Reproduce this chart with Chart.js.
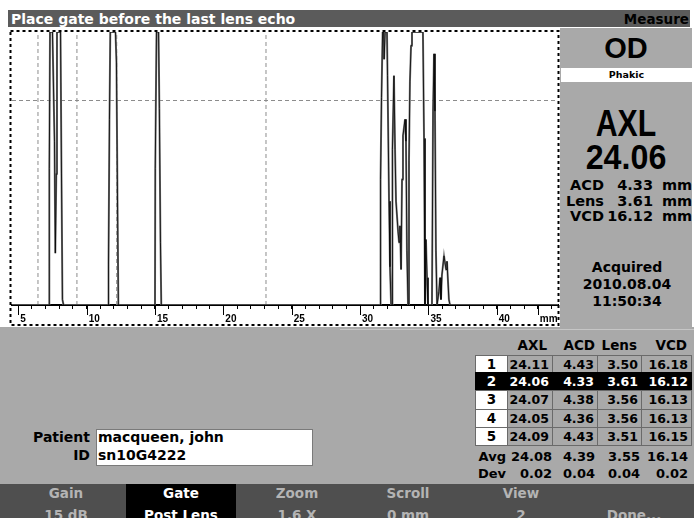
<!DOCTYPE html>
<html>
<head>
<meta charset="utf-8">
<script src="https://cdn.jsdelivr.net/npm/chart.js@4.4.0/dist/chart.umd.min.js"></script>
<style>
html, body { margin: 0; padding: 0; background: #fff; }
body { width: 694px; height: 518px; position: relative; overflow: hidden; font-family: "DejaVu Sans", sans-serif; font-weight: bold; }
.abs { position: absolute; white-space: nowrap; }
#titleBar { left: 8px; top: 10px; width: 682px; height: 17px; background: #5b5b5b; }
#titleText { left: 11px; top: 11.5px; color: #fff; font-size: 14px; line-height: 14px; }
#measure { right: 5px; top: 11.5px; color: #000; font-size: 13.5px; line-height: 14px; }
#chartWrap { left: 8px; top: 28px; width: 552px; height: 300px; background: #fff; }
#sidePanel { left: 560px; top: 28px; width: 132px; height: 299px; background: #a9a9a9; }
#bottomArea { left: 0; top: 327px; width: 694px; height: 157px; background: #a9a9a9; }
#sepLine { left: 340px; top: 329px; width: 354px; height: 1px; background: #c6c6c6; }
#bottomBar { left: 0; top: 484px; width: 694px; height: 34px; background: #4f4f4f; }
#gateCell { left: 126px; top: 484px; width: 110px; height: 34px; background: #000; }
.big { font-family: "Liberation Sans", Arial, sans-serif; text-align: center; color: #000; }
.side { font-size: 14.5px; line-height: 14.5px; color: #000; }
.cell { box-sizing: border-box; border: 1px solid #6a6a6a; font-size: 12.5px; line-height: 13px; padding-top: 2px; }
.btn { font-size: 13.5px; line-height: 13.5px; color: #b4b4b4; text-align: center; width: 110px; }
</style>
</head>
<body>
<div id="titleBar" class="abs"></div>
<div id="titleText" class="abs">Place gate before the last lens echo</div>
<div id="measure" class="abs">Measure</div>

<div id="chartWrap" class="abs"><canvas id="echoChart" width="552" height="300"></canvas></div>

<div id="sidePanel" class="abs"></div>
<div id="bottomArea" class="abs"></div>
<div id="sepLine" class="abs"></div>
<div id="bottomBar" class="abs"></div>
<div id="gateCell" class="abs"></div>
<div id="overlay"></div>

<script>
// Traza A-scan: profundidad (mm) y amplitud (% de pantalla)
const traceMm = [4.54, 7.25, 7.27, 7.32, 7.50, 7.65, 7.71, 7.78, 7.83, 8.09, 8.16, 8.23, 8.31,
    11.58, 11.60, 11.67, 11.73, 12.11, 12.18, 12.26, 12.32,
    15.00, 15.02, 15.11, 15.26, 15.32, 15.40, 15.46,
    31.46, 31.50, 31.57, 31.65, 31.72, 31.76, 31.83, 31.97, 32.01, 32.12, 32.19, 32.27,
    32.34, 32.37, 32.48, 32.56, 32.63, 32.78, 32.85, 32.92, 33.00, 33.07, 33.14, 33.29, 33.36, 33.43, 33.51,
    33.58, 33.65, 33.73, 33.80, 34.60, 34.68, 34.75, 34.82, 34.90, 34.97,
    35.26, 35.34, 35.41, 35.48, 35.55, 35.63,
    35.77, 35.85, 35.92, 35.99, 36.14, 36.29, 36.36, 36.50, 36.58, 44.48];
const traceAmp = [0, 0, 50, 100, 100, 60, 19, 48, 100, 100, 48, 2, 0,
    0, 15, 68, 100, 100, 89, 37, 0,
    0, 50, 100, 100, 72, 23, 0,
    0, 46, 76, 100, 100, 90, 100, 100, 84, 38, 14, 0,
    0, 57, 84, 57, 38, 27, 23, 29, 13, 46, 62, 68, 60, 20, 0,
    53, 82, 95, 100, 100, 61, 0, 24, 10, 0,
    0, 71, 92, 71, 20, 0,
    5, 10, 2, 11, 18, 13, 16, 2, 0, 0];

// Líneas verticales punteadas, marcas de compuerta y rejilla horizontal
const markerMm = [6.44, 9.29, 12.2, 23.12];
const gateMm = [7.28, 11.56, 15.0, 31.5];
const gridAmp = [75];

// Eje de profundidad
const tickMm = [5, 6, 7, 8, 9, 10, 11, 12, 13, 14, 15, 16, 17, 18, 19, 20, 21, 22, 23, 24,
    25, 26, 27, 28, 29, 30, 31, 32, 33, 34, 35, 36, 37, 38, 39, 40, 41, 42, 43, 44];
const labelMm = [5, 10, 15, 20, 25, 30, 35, 40, 43];
const labelText = ['5', '10', '15', '20', '25', '30', '35', '40', 'mm'];

// Tabla de mediciones
const readingNo = ['1', '2', '3', '4', '5'];
const axlVals = ['24.11', '24.06', '24.07', '24.05', '24.09'];
const acdVals = ['4.43', '4.33', '4.38', '4.36', '4.43'];
const lensVals = ['3.50', '3.61', '3.56', '3.56', '3.51'];
const vcdVals = ['16.18', '16.12', '16.13', '16.13', '16.15'];
const avgVals = ['24.08', '4.39', '3.55', '16.14'];
const devVals = ['0.02', '0.04', '0.04', '0.02'];
const selectedRow = 1;

const GATE_Y = -1.6;

const overlay = document.getElementById('overlay');
function addText(text, css) {
    const d = document.createElement('div');
    d.className = 'abs ' + (css.cls || '');
    d.textContent = text;
    Object.keys(css).forEach(k => { if (k !== 'cls') d.style[k] = css[k]; });
    overlay.appendChild(d);
    return d;
}

// Panel derecho
addText('OD', { cls: 'big', left: '560px', width: '132px', top: '33.5px', fontSize: '29px', lineHeight: '29px' });
addText('Phakic', { left: '561px', top: '68px', width: '131px', height: '14px', background: '#fff', textAlign: 'center', fontSize: '9.5px', lineHeight: '14px', color: '#000' });
addText('AXL', { cls: 'big', left: '560px', width: '132px', top: '105.5px', fontSize: '36px', lineHeight: '36px', transform: 'scaleX(0.84)' });
addText('24.06', { cls: 'big', left: '560px', width: '132px', top: '138.5px', fontSize: '35px', lineHeight: '35px', transform: 'scaleX(0.92)' });
const sideRows = [['ACD', '4.33', 177.8], ['Lens', '3.61', 193.7], ['VCD', '16.12', 209.4]];
sideRows.forEach(r => {
    addText(r[0], { cls: 'side', right: (694 - 604) + 'px', top: r[2] + 'px' });
    addText(r[1], { cls: 'side', right: (694 - 653) + 'px', top: r[2] + 'px' });
    addText('mm', { cls: 'side', left: '662px', top: r[2] + 'px' });
});
['Acquired', '2010.08.04', '11:50:34'].forEach((s, i) => {
    addText(s, { left: '560px', width: '134px', textAlign: 'center', top: [259.7, 277.0, 294.4][i] + 'px', fontSize: '14px', lineHeight: '14px', color: '#000' });
});

// Tabla
const colX = [475, 508, 553, 598, 642, 692];
const headRight = [547, 595, 637, 687];
['AXL', 'ACD', 'Lens', 'VCD'].forEach((h, i) => {
    addText(h, { right: (694 - headRight[i]) + 'px', top: '338.5px', fontSize: '13.5px', lineHeight: '13.5px', color: '#000' });
});
const rowTops = [355, 373, 391, 410, 428];
readingNo.forEach((n, r) => {
    const vals = [n, axlVals[r], acdVals[r], lensVals[r], vcdVals[r]];
    const sel = r === selectedRow;
    vals.forEach((v, c) => {
        addText(v, {
            cls: 'cell',
            left: (colX[c] - (c > 0 ? 1 : 0)) + 'px',
            top: (rowTops[r] - (r > 0 ? 1 : 0)) + 'px',
            width: (colX[c + 1] - colX[c] + (c > 0 ? 1 : 0)) + 'px',
            height: (r < 4 ? rowTops[r + 1] - rowTops[r] + 1 : 19) + 'px',
            background: sel ? '#000' : (c === 0 ? '#fff' : '#a9a9a9'),
            color: sel ? '#fff' : '#000',
            borderColor: sel ? '#000' : '#6a6a6a',
            textAlign: c === 0 ? 'center' : 'right',
            paddingRight: c === 0 ? '0' : '3px',
            fontSize: c === 0 ? '13.5px' : '12.5px'
        });
    });
});
const sumRight = [552, 595, 640, 688];
[['Avg', avgVals, 449.5], ['Dev', devVals, 467]].forEach(row => {
    addText(row[0], { right: (694 - 506) + 'px', top: row[2] + 'px', fontSize: '13px', lineHeight: '13px', color: '#000' });
    row[1].forEach((v, i) => addText(v, { right: (694 - sumRight[i]) + 'px', top: row[2] + 'px', fontSize: '13px', lineHeight: '13px', color: '#000' }));
});

// Paciente
addText('', { left: '96px', top: '429px', width: '215px', height: '35px', background: '#fff', border: '1px solid #7a7a7a' });
addText('Patient', { right: (694 - 90) + 'px', top: '430px', fontSize: '14px', lineHeight: '14px', color: '#000' });
addText('ID', { right: (694 - 90) + 'px', top: '448px', fontSize: '14px', lineHeight: '14px', color: '#000' });
addText('macqueen, john', { left: '98px', top: '430px', fontSize: '14px', lineHeight: '14px', color: '#000' });
addText('sn10G4222', { left: '98px', top: '448px', fontSize: '14px', lineHeight: '14px', color: '#000' });

// Barra inferior
const btnCenter = [66, 181, 297, 408, 521, 634];
const btnTop = ['Gain', 'Gate', 'Zoom', 'Scroll', 'View', ''];
const btnBottom = ['15 dB', 'Post Lens', '1.6 X', '0 mm', '2', 'Done...'];
btnCenter.forEach((cx, i) => {
    const col = i === 1 ? '#fff' : '#b4b4b4';
    addText(btnTop[i], { cls: 'btn', left: (cx - 55) + 'px', top: '486.8px', color: col });
    addText(btnBottom[i], { cls: 'btn', left: (cx - 55) + 'px', top: '508.5px', color: col });
});

// Marco punteado y marcas mayores del eje
const frameAndTicks = {
    id: 'frameAndTicks',
    afterDraw(chart) {
        const ctx = chart.ctx;
        const xs = chart.scales.x;
        const bottom = chart.chartArea.bottom;
        ctx.save();
        ctx.strokeStyle = '#000';
        ctx.lineWidth = 1;
        labelMm.forEach(v => {
            const px = Math.round(xs.getPixelForValue(v)) + 0.5;
            ctx.beginPath();
            ctx.moveTo(px, bottom);
            ctx.lineTo(px, bottom + 10);
            ctx.stroke();
        });
        ctx.lineWidth = 2;
        ctx.setLineDash([3, 3]);
        ctx.strokeRect(2.5, 3, chart.width - 4, chart.height - 6);
        ctx.restore();
    }
};

const tracePoints = traceMm.map((m, i) => ({ x: m, y: traceAmp[i] }));

const markerSets = markerMm.map(m => ({
    data: [{ x: m, y: 0 }, { x: m, y: 100 }],
    borderColor: '#8c8c8c',
    borderWidth: 1,
    borderDash: [4, 3],
    pointRadius: 0,
    order: 3
}));

new Chart(document.getElementById('echoChart'), {
    type: 'line',
    data: {
        datasets: [
            {
                data: tracePoints,
                borderColor: '#000',
                borderWidth: 0.8,
                pointRadius: 0,
                tension: 0,
                order: 0
            },
            {
                data: tracePoints,
                borderColor: '#7c7c7c',
                borderWidth: 2,
                pointRadius: 0,
                tension: 0,
                order: 1
            },
            {
                data: gateMm.map(m => ({ x: m, y: GATE_Y })),
                showLine: false,
                pointStyle: 'triangle',
                pointRadius: 4,
                pointBackgroundColor: '#000',
                pointBorderColor: '#000',
                pointBorderWidth: 0,
                clip: false,
                order: 0
            },
            ...markerSets
        ]
    },
    options: {
        responsive: false,
        animation: false,
        devicePixelRatio: 1,
        events: [],
        layout: { padding: { left: 4, right: 2, top: 4, bottom: 0 }, autoPadding: false },
        plugins: { legend: { display: false }, tooltip: { enabled: false } },
        scales: {
            x: {
                type: 'linear',
                min: 4.54,
                max: 44.48,
                afterBuildTicks: s => { s.ticks = tickMm.map(v => ({ value: v })); },
                afterFit: s => { s.height = 23; },
                ticks: {
                    autoSkip: false,
                    maxRotation: 0,
                    align: 'start',
                    labelOffset: 2,
                    padding: 4,
                    color: '#000',
                    font: { family: 'Liberation Sans', weight: 'bold', size: 10 },
                    callback: v => {
                        const i = labelMm.indexOf(v);
                        return i >= 0 ? labelText[i] : '';
                    }
                },
                grid: { drawOnChartArea: false, drawTicks: true, tickLength: 4, tickColor: '#000', color: '#000' },
                border: { display: true, color: '#000', width: 2 }
            },
            y: {
                min: 0,
                max: 100,
                afterBuildTicks: s => { s.ticks = gridAmp.map(v => ({ value: v })); },
                afterFit: s => { s.width = 0; },
                ticks: { display: false },
                grid: { color: '#8c8c8c', drawTicks: false },
                border: { display: false, dash: [4, 3] }
            }
        }
    },
    plugins: [frameAndTicks]
});
</script>
</body>
</html>
